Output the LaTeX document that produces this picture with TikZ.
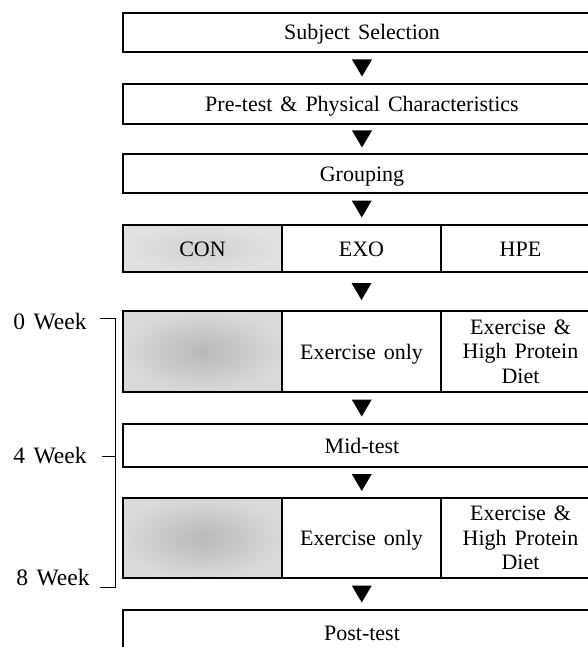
\documentclass[tikz,border=0pt]{standalone}
\usepackage{fontspec}
\setmainfont[WordSpace=1.45]{Liberation Serif}
\usetikzlibrary{calc}
\begin{document}
\begin{tikzpicture}[x=1pt,y=-1pt,
  every node/.style={font=\fontsize{22}{24.5}\selectfont, inner sep=0pt, outer sep=0pt},
  box/.style={draw=black, line width=1.2pt, anchor=north west, minimum width=478pt,
              text height=15pt, text depth=0pt},
  cell/.style={draw=black, line width=1.2pt, anchor=north west, minimum width=159pt},
  one/.style={text height=15pt, text depth=0pt},
  shade/.style={inner color=gray!55, outer color=gray!30},
  lightshade/.style={inner color=gray!36, outer color=gray!24},
  tri/.style={fill=black},
  bracket/.style={line width=0.9pt},
  lab/.style={anchor=center, text height=15pt, text depth=0pt, font=\fontsize{23.5}{26}\selectfont}]
\useasboundingbox (0,0) rectangle (588,647);
\clip (0,0) rectangle (588,647);

% boxes
\node[box, minimum height=39pt] (b1) at (123,13) {Subject Selection};
\node[box, minimum height=40pt] (b2) at (123,84) {Pre-test \& Physical Characteristics};
\node[box, minimum height=39pt] (b3) at (123,154) {Grouping};

\node[cell, one, lightshade, minimum height=47pt] (con) at (123,225) {CON};
\node[cell, one, minimum height=47pt] (exo) at (282,225) {EXO};
\node[cell, one, minimum height=47pt] (hpe) at (441,225) {HPE};

\node[cell, shade, minimum height=81pt] (c1) at (123,311) {};
\node[cell, one, minimum height=81pt] (e1) at (282,311) {Exercise only};
\node[cell, align=center, minimum height=81pt] (h1) at (441,311) {Exercise \&\\High Protein\\Diet};

\node[box, minimum height=43pt] (b6) at (123,424) {Mid-test};

\node[cell, shade, minimum height=80pt] (c2) at (123,498) {};
\node[cell, one, minimum height=80pt] (e2) at (282,498) {Exercise only};
\node[cell, align=center, minimum height=80pt] (h2) at (441,498) {Exercise \&\\High Protein\\Diet};

\node[box, minimum height=46pt] (b8) at (123,610) {Post-test};

% triangles between boxes
\newcommand\flowtri[2]{\fill[tri] ($(#1.south)!0.5!(#2.north)$) ++(-10,-8.5) -- ++(20,0) -- ++(-10,17) -- cycle;}
\flowtri{b1}{b2}
\flowtri{b2}{b3}
\flowtri{b3}{exo}
\flowtri{exo}{e1}
\flowtri{e1}{b6}
\flowtri{b6}{e2}
\flowtri{e2}{b8}

% week labels and bracket
\node[lab] (w0) at (50,322) {0 Week};
\node[lab] (w4) at (50,456) {4 Week};
\node[lab] (w8) at (53,578) {8 Week};
\coordinate (t0) at (100,318);
\coordinate (t4) at (102,456);
\coordinate (t8) at (100,587);
\draw[bracket] (t0) -- ++(15,0) |- (t8);
\draw[bracket] (t4) -- ++(13,0);
\end{tikzpicture}
\end{document}
